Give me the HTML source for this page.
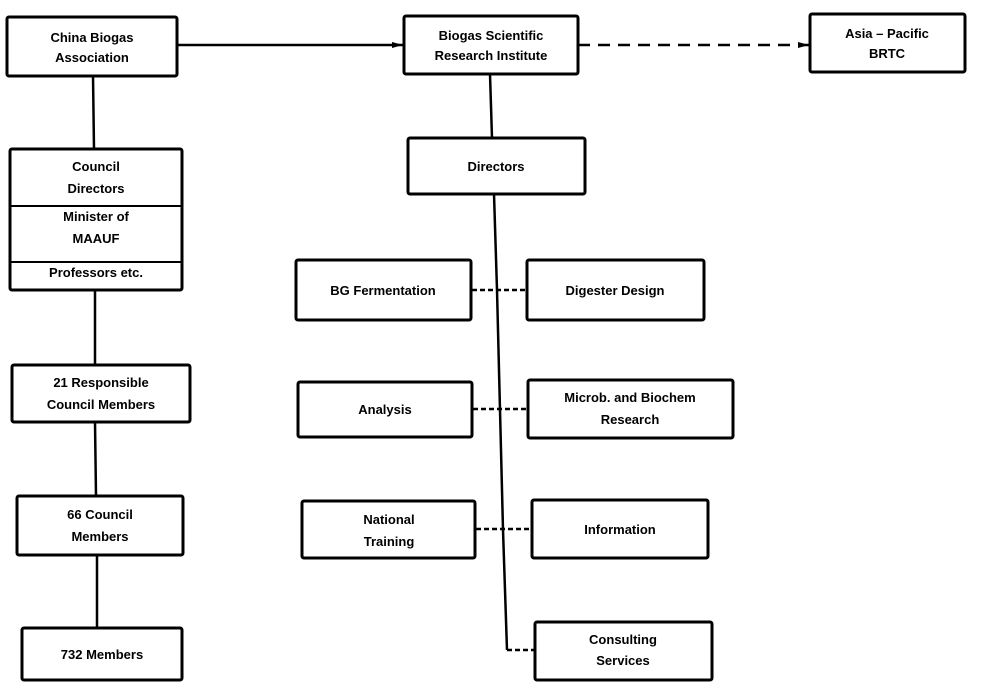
<!DOCTYPE html>
<html><head><meta charset="utf-8"><style>
html,body{margin:0;padding:0;background:#fff;}
svg{display:block;}
text{font-family:"Liberation Sans",sans-serif;font-weight:bold;font-size:13px;fill:#000;text-anchor:middle;}
</style></head><body>
<svg width="988" height="688" viewBox="0 0 988 688" xmlns="http://www.w3.org/2000/svg">
<defs><marker id="a" markerWidth="12" markerHeight="8" refX="11" refY="4" orient="auto" markerUnits="userSpaceOnUse"><path d="M0,1 L11,4 L0,7 Z" fill="#000"/></marker></defs>
<g fill="none" stroke="#000" stroke-width="3">
<rect x="7" y="17" width="170" height="59" rx="2"/>
<rect x="404" y="16" width="174" height="58" rx="2"/>
<rect x="810" y="14" width="155" height="58" rx="2"/>
<rect x="408" y="138" width="177" height="56" rx="2"/>
<rect x="10" y="149" width="172" height="141" rx="2"/>
<line x1="10" y1="206" x2="182" y2="206" stroke-width="2"/>
<line x1="10" y1="262" x2="182" y2="262" stroke-width="2"/>
<rect x="12" y="365" width="178" height="57" rx="2"/>
<rect x="17" y="496" width="166" height="59" rx="2"/>
<rect x="22" y="628" width="160" height="52" rx="2"/>
<rect x="296" y="260" width="175" height="60" rx="2"/>
<rect x="527" y="260" width="177" height="60" rx="2"/>
<rect x="298" y="382" width="174" height="55" rx="2"/>
<rect x="528" y="380" width="205" height="58" rx="2"/>
<rect x="302" y="501" width="173" height="57" rx="2"/>
<rect x="532" y="500" width="176" height="58" rx="2"/>
<rect x="535" y="622" width="177" height="58" rx="2"/>
<line x1="177" y1="45" x2="403" y2="45" stroke-width="2.5" marker-end="url(#a)"/>
<line x1="578" y1="45" x2="809" y2="45" stroke-width="2.5" stroke-dasharray="12,8" marker-end="url(#a)"/>
<line x1="93" y1="76" x2="94" y2="149" stroke-width="2.5"/>
<line x1="95" y1="290" x2="95" y2="365" stroke-width="2.5"/>
<line x1="95" y1="422" x2="96" y2="496" stroke-width="2.5"/>
<line x1="97" y1="555" x2="97" y2="628" stroke-width="2.5"/>
<line x1="490" y1="74" x2="492" y2="138" stroke-width="2.5"/>
<polyline points="494,194 497,290 500,410 503,530 507,650" stroke-width="2.5"/>
<g stroke-width="2.5" stroke-dasharray="5,3">
<line x1="472" y1="290" x2="527" y2="290"/>
<line x1="473" y1="409" x2="528" y2="409"/>
<line x1="476" y1="529" x2="532" y2="529"/>
<line x1="507" y1="650" x2="535" y2="650"/>
</g>
</g>
<text x="92" y="42">China Biogas</text>
<text x="92" y="62">Association</text>
<text x="491" y="40">Biogas Scientific</text>
<text x="491" y="60">Research Institute</text>
<text x="887" y="38">Asia – Pacific</text>
<text x="887" y="58">BRTC</text>
<text x="496" y="171">Directors</text>
<text x="96" y="171">Council</text>
<text x="96" y="193">Directors</text>
<text x="96" y="221">Minister of</text>
<text x="96" y="243">MAAUF</text>
<text x="96" y="277">Professors etc.</text>
<text x="101" y="387">21 Responsible</text>
<text x="101" y="409">Council Members</text>
<text x="100" y="519">66 Council</text>
<text x="100" y="541">Members</text>
<text x="102" y="659">732 Members</text>
<text x="383" y="295">BG Fermentation</text>
<text x="615" y="295">Digester Design</text>
<text x="385" y="414">Analysis</text>
<text x="630" y="402">Microb. and Biochem</text>
<text x="630" y="424">Research</text>
<text x="389" y="524">National</text>
<text x="389" y="546">Training</text>
<text x="620" y="534">Information</text>
<text x="623" y="644">Consulting</text>
<text x="623" y="665">Services</text>
</svg>
</body></html>
